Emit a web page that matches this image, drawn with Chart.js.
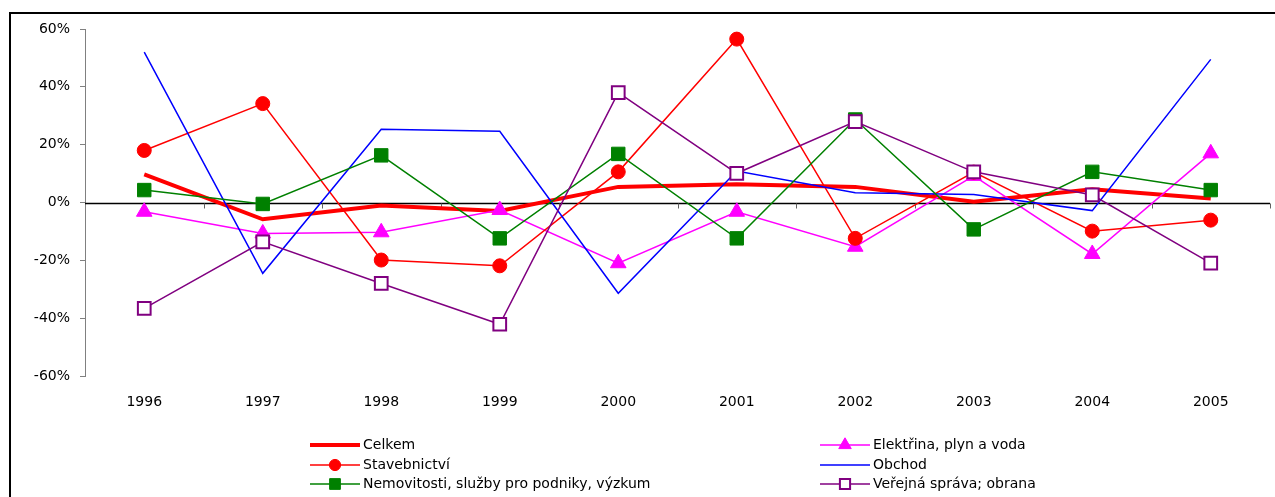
<!DOCTYPE html>
<html>
<head>
<meta charset="utf-8">
<script src="https://cdn.jsdelivr.net/npm/chart.js@4.4.1/dist/chart.umd.min.js"></script>
<style>
  html, body { margin: 0; padding: 0; background: #fff; overflow: hidden; }
  canvas { display: block; }
</style>
</head>
<body>
<canvas id="c" width="1275" height="497"></canvas>
<script>
// Year-on-year change (%) by sector
const years = ['1996', '1997', '1998', '1999', '2000', '2001', '2002', '2003', '2004', '2005'];
const celkem       = [9.7, -5.8, -1.0, -2.9, 5.4, 6.3, 5.4, 0.3, 4.6, 1.4];
const elektrina    = [-3.2, -10.7, -10.3, -2.6, -21.0, -3.2, -15.3, 9.2, -17.8, 17.0];
const stavebnictvi = [18.0, 34.2, -19.9, -21.9, 10.6, 56.5, -12.4, 10.5, -9.9, -6.1];
const obchod       = [52.0, -24.5, 25.3, 24.6, -31.4, 10.9, 3.4, 2.8, -2.8, 49.5];
const nemovitosti  = [4.3, -0.5, 16.3, -12.4, 16.8, -12.4, 28.7, -9.3, 10.6, 4.3];
const sprava       = [-36.6, -13.6, -28.0, -42.1, 38.0, 10.1, 28.0, 10.6, 2.6, -21.0];
const yTicks = [-60, -40, -20, 0, 20, 40, 60];

const FONT = '"DejaVu Sans", "Liberation Sans", Arial, sans-serif';

const series = [
  { label: 'Celkem', data: celkem, borderColor: '#FF0000', backgroundColor: '#FF0000',
    borderWidth: 4, pointRadius: 0, pointStyle: false },
  { label: 'Elektřina, plyn a voda', data: elektrina, borderColor: '#FF00FF', backgroundColor: '#FF00FF',
    borderWidth: 1.5, pointStyle: 'triangle', pointRadius: 9, pointBorderWidth: 1 },
  { label: 'Stavebnictví', data: stavebnictvi, borderColor: '#FF0000', backgroundColor: '#FF0000',
    borderWidth: 1.5, pointStyle: 'circle', pointRadius: 7, pointBorderWidth: 1 },
  { label: 'Obchod', data: obchod, borderColor: '#0000FF', backgroundColor: '#0000FF',
    borderWidth: 1.5, pointRadius: 0, pointStyle: false },
  { label: 'Nemovitosti, služby pro podniky, výzkum', data: nemovitosti, borderColor: '#008000', backgroundColor: '#008000',
    borderWidth: 1.5, pointStyle: 'rect', pointRadius: 9.5, pointBorderWidth: 1 },
  { label: 'Veřejná správa; obrana', data: sprava, borderColor: '#800080', backgroundColor: '#FFFFFF',
    borderWidth: 1.5, pointStyle: 'rect', pointRadius: 9, pointBorderWidth: 2 }
];

const datasets = series.map((s, i) => Object.assign({
  tension: 0,
  fill: false,
  order: series.length - 1 - i,
  pointBackgroundColor: s.backgroundColor,
  pointBorderColor: s.borderColor,
  pointHoverRadius: s.pointRadius
}, s));

// White page with the black frame on the top and left edges
const framePlugin = {
  id: 'frame',
  beforeDraw(chart) {
    const ctx = chart.ctx;
    ctx.save();
    ctx.fillStyle = '#FFFFFF';
    ctx.fillRect(0, 0, chart.width, chart.height);
    ctx.strokeStyle = '#000000';
    ctx.lineWidth = 2;
    ctx.beginPath();
    ctx.moveTo(10, chart.height);
    ctx.lineTo(10, 13);
    ctx.lineTo(chart.width, 13);
    ctx.stroke();
    ctx.restore();
  }
};

// Horizontal zero line with category-boundary tick marks
const zeroLinePlugin = {
  id: 'zeroLine',
  beforeDatasetsDraw(chart) {
    const { ctx, chartArea, scales } = chart;
    const y0 = Math.round(scales.y.getPixelForValue(0)) + 0.5;
    ctx.save();
    ctx.strokeStyle = '#000000';
    ctx.lineWidth = 1.5;
    ctx.beginPath();
    ctx.moveTo(chartArea.left, y0);
    ctx.lineTo(chartArea.right, y0);
    ctx.stroke();
    ctx.strokeStyle = '#606060';
    ctx.lineWidth = 1;
    ctx.beginPath();
    const n = years.length;
    for (let i = 1; i <= n; i++) {
      const x = i < n
        ? (scales.x.getPixelForValue(i - 1) + scales.x.getPixelForValue(i)) / 2
        : chartArea.right;
      const xr = Math.round(x) + 0.5;
      ctx.moveTo(xr, y0);
      ctx.lineTo(xr, y0 + 5);
    }
    ctx.stroke();
    ctx.restore();
  }
};

// Two-column legend under the plot
const legendPlugin = {
  id: 'twoColLegend',
  afterDraw(chart) {
    const ctx = chart.ctx;
    const cols = [310, 820];
    const rows = [445, 465, 484];
    const sampleW = 50;
    ctx.save();
    ctx.font = '14px ' + FONT;
    ctx.textBaseline = 'middle';
    ctx.fillStyle = '#000000';
    chart.data.datasets.forEach((ds, k) => {
      const x0 = cols[k % 2];
      const y = rows[Math.floor(k / 2)];
      ctx.strokeStyle = ds.borderColor;
      ctx.lineWidth = ds.borderWidth;
      ctx.beginPath();
      ctx.moveTo(x0, y);
      ctx.lineTo(x0 + sampleW, y);
      ctx.stroke();
      if (ds.pointStyle) {
        ctx.fillStyle = ds.pointBackgroundColor;
        ctx.strokeStyle = ds.pointBorderColor;
        ctx.lineWidth = ds.pointBorderWidth;
        Chart.helpers.drawPoint(ctx, {
          pointStyle: ds.pointStyle,
          radius: ds.pointRadius * 0.8,
          borderWidth: ds.pointBorderWidth,
          rotation: 0
        }, x0 + sampleW / 2, y);
      }
      ctx.fillStyle = '#000000';
      ctx.fillText(ds.label, x0 + sampleW + 3, y);
    });
    ctx.restore();
  }
};

new Chart(document.getElementById('c'), {
  type: 'line',
  data: { labels: years, datasets },
  options: {
    responsive: false,
    animation: false,
    devicePixelRatio: 1,
    layout: { autoPadding: false, padding: { top: 29, right: 5, left: 0, bottom: 0 } },
    plugins: {
      legend: { display: false },
      tooltip: { enabled: false },
      title: { display: false }
    },
    scales: {
      x: {
        type: 'category',
        offset: true,
        grid: { display: false, drawTicks: false },
        border: { display: false },
        ticks: {
          color: '#000000',
          font: { family: FONT, size: 14 },
          padding: 18,
          maxRotation: 0,
          autoSkip: false
        },
        afterFit(scale) { scale.height = 121; }
      },
      y: {
        min: -60,
        max: 60,
        afterBuildTicks(scale) { scale.ticks = yTicks.map(v => ({ value: v })); },
        grid: { drawOnChartArea: false, drawTicks: true, tickLength: 5, color: '#808080' },
        border: { display: true, color: '#808080', width: 1 },
        ticks: {
          color: '#000000',
          font: { family: FONT, size: 14 },
          padding: 10,
          callback: v => v + '%'
        },
        afterFit(scale) { scale.width = 85; }
      }
    }
  },
  plugins: [framePlugin, zeroLinePlugin, legendPlugin]
});
</script>
</body>
</html>
